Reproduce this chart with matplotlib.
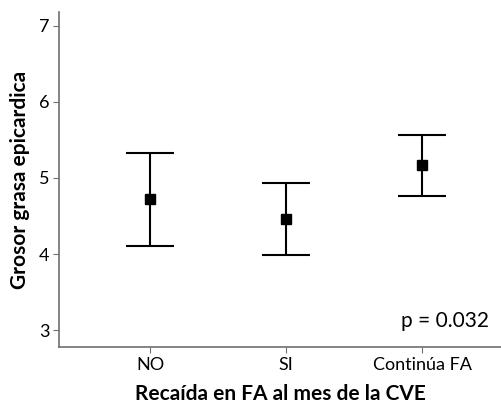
import matplotlib
matplotlib.use("Agg")
import matplotlib.pyplot as plt

# group means and 95% CI
groups = ["NO", "SI", "Continúa FA"]
means = [4.72, 4.457, 5.167]
lower = [4.105, 3.983, 4.76]
upper = [5.325, 4.93, 5.57]

plt.rcParams["font.family"] = ["Lato", "DejaVu Sans"]

fig = plt.figure(figsize=(5.02, 4.07), dpi=100)
ax = fig.add_axes([59 / 502, 1 - 347 / 407, (501 - 59) / 502, (347 - 12) / 407])

x = list(range(1, len(groups) + 1))
yerr = [[m - l for m, l in zip(means, lower)], [u - m for m, u in zip(means, upper)]]
ax.errorbar(x, means, yerr=yerr, fmt="s", color="black", ms=7, elinewidth=1.5,
            capsize=17, capthick=1.5)

ax.set_xlim(0.33, 3.58)
ax.set_ylim(2.78, 7.18)
ax.set_xticks(x)
ax.set_xticklabels(groups)
ax.set_yticks([3, 4, 5, 6, 7])
for side in ["top", "right"]:
    ax.spines[side].set_visible(False)
for side in ["left", "bottom"]:
    ax.spines[side].set_color("#707070")
    ax.spines[side].set_linewidth(1.2)
ax.tick_params(colors="#707070", labelcolor="black", length=4, labelsize=13, pad=3)

ax.set_xlabel("Recaída en FA al mes de la CVE", fontsize=15, fontweight="bold", labelpad=8)
ax.set_ylabel("Grosor grasa epicardica", fontsize=15, fontweight="bold", labelpad=6)
ax.text(3.49, 3.12, "p = 0.032", fontsize=15, ha="right", va="center")

fig.savefig("out.png", dpi=100)
